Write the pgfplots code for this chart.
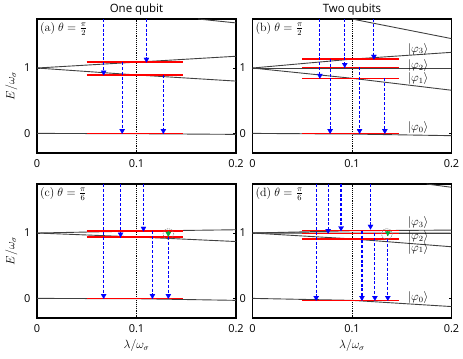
\documentclass[border=0pt]{standalone}
\usepackage[no-math]{fontspec}
\setmainfont{Open Sans}
\usepackage{pgfplots}
\pgfplotsset{compat=1.18}
\usepgfplotslibrary{groupplots}

\definecolor{lvl}{gray}{0.25}
\definecolor{grn}{RGB}{0,170,60}
\definecolor{arrblue}{RGB}{0,0,255}

\pgfplotsset{
  panel/.style={
    width=199bp, height=134bp, scale only axis, clip=false,
    xmin=0, xmax=0.2, ymin=-0.3, ymax=1.75,
    xtick={0,0.1,0.2}, ytick={0,1},
    tick label style={font=\fontsize{11}{13}\selectfont},
    /pgf/number format/assume math mode=true,
    axis line style={line width=1.2bp},
    tick style={black, line width=0.7bp},
    major tick length=3bp,
    xticklabel style={yshift=-3bp},
    yticklabel style={xshift=-3bp},
    title style={font=\fontsize{11.5}{13}\selectfont, yshift=-6bp},
    label style={font=\fontsize{12}{14}\selectfont},
    unbounded coords=jump,
  },
  level/.style={draw=lvl, line width=0.9bp, forget plot},
  redlvl/.style={draw=red, line width=1.4bp, forget plot},
  % all dashed transitions of one panel, separated by nan jumps
  shafts/.style={color=arrblue, line width=1.2bp, dash pattern=on 3bp off 1.8bp, forget plot},
  % their triangular heads, one at each arrow end
  heads/.style={only marks, color=arrblue, mark=triangle*, mark size=2.9bp,
    mark options={solid, draw=arrblue, fill=arrblue, line width=0.3bp, rotate=180, yshift=-2.7bp},
    forget plot},
  garr/.style={draw=grn, line width=1.2bp, mark=triangle*, mark indices={2}, mark size=2.9bp,
    mark options={solid, draw=grn, fill=grn, line width=0.3bp, rotate=180, yshift=-2.7bp}, forget plot},
  vdot/.style={draw=black, densely dotted, line width=0.9bp, forget plot},
}
\tikzset{
  tag/.style={anchor=north west, font=\fontsize{11.5}{13}\selectfont, inner sep=3bp},
  ket/.style={anchor=west, font=\fontsize{12}{14}\selectfont, inner sep=1bp},
}

\begin{document}
\begin{tikzpicture}
\begin{groupplot}[group style={group size=2 by 2, horizontal sep=16.5bp, vertical sep=31bp}, panel]

% (a) one qubit, theta = pi/2
\nextgroupplot[title={One qubit}, ylabel={$E/\omega_\sigma$}]
\addplot[level] coordinates {(0.162,1.75) (0.2,1.69)};
\addplot[level] coordinates {(0,1) (0.1,1.09) (0.2,1.18)};
\addplot[level] coordinates {(0,1) (0.1,0.894) (0.2,0.80)};
\addplot[level] coordinates {(0,0) (0.1,-0.005) (0.2,-0.015)};
\addplot[vdot] coordinates {(0.1,-0.3) (0.1,1.75)};
\addplot[redlvl] coordinates {(0.05,1.09) (0.147,1.09)};
\addplot[redlvl] coordinates {(0.05,0.894) (0.147,0.894)};
\addplot[redlvl] coordinates {(0.05,0) (0.147,0)};
\addplot[shafts] coordinates {
  (0.067,1.75) (0.067,0.894) (0.067,nan)
  (0.110,1.75) (0.110,1.09) (0.110,nan)
  (0.0856,1.09) (0.0856,0) (0.0856,nan)
  (0.127,0.894) (0.127,0)};
\addplot[heads] coordinates {(0.067,0.894) (0.110,1.09) (0.0856,0) (0.127,0)};
\node[tag] at (rel axis cs:0,1) {$(\mathrm{a})\ \theta=\frac{\pi}{2}$};

% (b) two qubits, theta = pi/2
\nextgroupplot[title={Two qubits}]
\addplot[level] coordinates {(0.1,1.75) (0.2,1.45)};
\addplot[level] coordinates {(0,1) (0.1,1.136) (0.2,1.24)};
\addplot[level] coordinates {(0,1) (0.1,1.0) (0.2,1.0)};
\addplot[level] coordinates {(0,1) (0.1,0.843) (0.2,0.66)};
\addplot[level] coordinates {(0,0) (0.1,-0.01) (0.2,-0.035)};
\addplot[vdot] coordinates {(0.1,-0.3) (0.1,1.75)};
\addplot[redlvl] coordinates {(0.05,1.136) (0.147,1.136)};
\addplot[redlvl] coordinates {(0.05,1.01) (0.147,1.01)};
\addplot[redlvl] coordinates {(0.05,0.843) (0.147,0.843)};
\addplot[redlvl] coordinates {(0.05,0) (0.147,0)};
\addplot[shafts] coordinates {
  (0.0677,1.75) (0.0677,0.843) (0.0677,nan)
  (0.0927,1.75) (0.0927,1.01) (0.0927,nan)
  (0.122,1.75) (0.122,1.136) (0.122,nan)
  (0.078,1.136) (0.078,0) (0.078,nan)
  (0.1076,1.01) (0.1076,0) (0.1076,nan)
  (0.133,0.843) (0.133,0)};
\addplot[heads] coordinates {(0.0677,0.843) (0.0927,1.01) (0.122,1.136) (0.078,0) (0.1076,0) (0.133,0)};
\node[tag] at (rel axis cs:0,1) {$(\mathrm{b})\ \theta=\frac{\pi}{2}$};
\node[ket] at (axis cs:0.155,1.29) {$|\varphi_3\rangle$};
\node[ket] at (axis cs:0.155,1.04) {$|\varphi_2\rangle$};
\node[ket] at (axis cs:0.155,0.84) {$|\varphi_1\rangle$};
\node[ket] at (axis cs:0.155,0.09) {$|\varphi_0\rangle$};

% (c) one qubit, theta = pi/6
\nextgroupplot[xlabel={$\lambda/\omega_\sigma$}, ylabel={$E/\omega_\sigma$}]
\addplot[level] coordinates {(0,1) (0.1,1.03) (0.2,1.05)};
\addplot[level] coordinates {(0,1) (0.1,0.94) (0.2,0.87)};
\addplot[level] coordinates {(0,0) (0.1,-0.005) (0.2,-0.03)};
\addplot[vdot] coordinates {(0.1,-0.3) (0.1,1.75)};
\addplot[redlvl] coordinates {(0.05,1.03) (0.147,1.03)};
\addplot[redlvl] coordinates {(0.05,0.94) (0.147,0.94)};
\addplot[redlvl] coordinates {(0.05,0) (0.147,0)};
\addplot[shafts] coordinates {
  (0.067,1.75) (0.067,0) (0.067,nan)
  (0.084,1.75) (0.084,0.94) (0.084,nan)
  (0.107,1.75) (0.107,1.03) (0.107,nan)
  (0.116,1.03) (0.116,0) (0.116,nan)
  (0.132,0.94) (0.132,0)};
\addplot[heads] coordinates {(0.067,0) (0.084,0.94) (0.107,1.03) (0.116,0) (0.132,0)};
\addplot[garr] coordinates {(0.132,1.03) (0.132,0.95)};
\addplot[only marks, mark=o, mark size=5.5bp, draw=gray, mark options={draw=gray, dash pattern=on 1.2bp off 1bp, line width=0.6bp}, forget plot]
  coordinates {(0.132,0.985)};
\node[tag] at (rel axis cs:0,1) {$(\mathrm{c})\ \theta=\frac{\pi}{6}$};

% (d) two qubits, theta = pi/6
\nextgroupplot[xlabel={$\lambda/\omega_\sigma$}]
\addplot[level] coordinates {(0.175,1.75) (0.2,1.70)};
\addplot[level] coordinates {(0,1) (0.1,1.035) (0.2,1.045)};
\addplot[level, line width=1.2bp] coordinates {(0,1) (0.1,0.998) (0.2,0.995)};
\addplot[level] coordinates {(0,1) (0.1,0.91) (0.2,0.79)};
\addplot[level] coordinates {(0,0) (0.1,-0.03) (0.2,-0.125)};
\addplot[vdot] coordinates {(0.1,-0.3) (0.1,1.75)};
\addplot[redlvl] coordinates {(0.05,1.035) (0.147,1.035)};
\addplot[redlvl] coordinates {(0.05,0.995) (0.147,0.995)};
\addplot[redlvl] coordinates {(0.05,0.91) (0.147,0.91)};
\addplot[redlvl] coordinates {(0.05,-0.03) (0.147,-0.03)};
\addplot[shafts] coordinates {
  (0.064,1.75) (0.064,-0.03) (0.064,nan)
  (0.076,1.75) (0.076,0.995) (0.076,nan)
  (0.089,1.75) (0.089,1.035) (0.089,nan)
  (0.1186,1.75) (0.1186,1.06) (0.1186,nan)
  (0.110,1.035) (0.110,-0.03) (0.110,nan)
  (0.123,0.995) (0.123,-0.03) (0.123,nan)
  (0.136,0.91) (0.136,-0.03)};
\addplot[heads] coordinates {(0.064,-0.03) (0.076,0.995) (0.089,1.035) (0.1186,1.06) (0.110,-0.03) (0.123,-0.03) (0.136,-0.03)};
\addplot[garr] coordinates {(0.136,1.035) (0.136,0.96)};
\addplot[only marks, mark=o, mark size=5.5bp, draw=gray, mark options={draw=gray, dash pattern=on 1.2bp off 1bp, line width=0.6bp}, forget plot]
  coordinates {(0.135,0.985)};
\node[tag] at (rel axis cs:0,1) {$(\mathrm{d})\ \theta=\frac{\pi}{6}$};
\node[ket] at (axis cs:0.155,1.16) {$|\varphi_3\rangle$};
\node[ket] at (axis cs:0.155,0.95) {$|\varphi_2\rangle$};
\node[ket] at (axis cs:0.155,0.77) {$|\varphi_1\rangle$};
\node[ket] at (axis cs:0.155,0.01) {$|\varphi_0\rangle$};
\end{groupplot}
\pgfresetboundingbox
\path (group c1r1.north west) ++(-37bp,19bp) rectangle ++(463bp,-359bp);
\end{tikzpicture}
\end{document}
